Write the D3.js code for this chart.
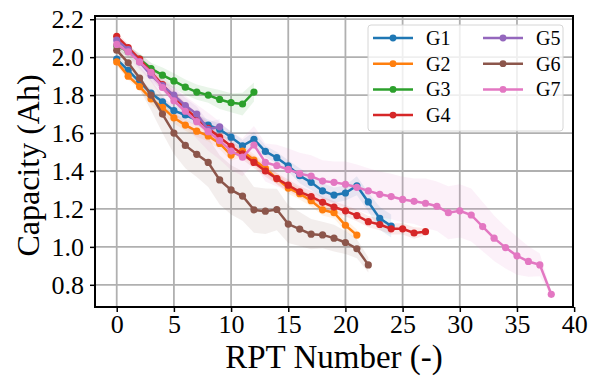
<!DOCTYPE html>
<html>
<head>
<meta charset="utf-8">
<script src="https://cdn.jsdelivr.net/npm/d3@7"></script>
<style>
  body { margin: 0; background: #fff; }
  svg text { font-family: "Liberation Serif", "Times New Roman", serif; fill: #000; }
</style>
</head>
<body>
<div id="chart"></div>
<script>
// capacity per RPT for each group (mean), plus spread for the shaded band
const groups = ["G1", "G2", "G3", "G4", "G5", "G6", "G7"];
const colors = ["#1f77b4", "#ff7f0e", "#2ca02c", "#d62728", "#9467bd", "#8c564b", "#e377c2"];

const g1 = [1.99, 1.93, 1.87, 1.81, 1.765, 1.718, 1.695, 1.668, 1.642, 1.62, 1.578, 1.533, 1.567, 1.503, 1.47, 1.427, 1.375, 1.34, 1.295, 1.273, 1.284, 1.322, 1.237, 1.15, 1.11];
const g2 = [1.975, 1.90, 1.845, 1.78, 1.735, 1.68, 1.642, 1.61, 1.585, 1.545, 1.484, 1.505, 1.458, 1.414, 1.36, 1.31, 1.28, 1.243, 1.195, 1.18, 1.114, 1.062];
const g3 = [2.06, 2.03, 1.99, 1.94, 1.905, 1.875, 1.842, 1.816, 1.80, 1.777, 1.76, 1.753, 1.816];
const g4 = [2.11, 2.05, 1.99, 1.92, 1.855, 1.79, 1.73, 1.677, 1.625, 1.578, 1.53, 1.49, 1.445, 1.40, 1.36, 1.325, 1.29, 1.265, 1.235, 1.21, 1.19, 1.165, 1.133, 1.118, 1.095, 1.095, 1.073, 1.08];
const g5 = [2.09, 2.04, 1.975, 1.905, 1.85, 1.80, 1.745, 1.70, 1.62, 1.633];
const g6 = [2.037, 1.97, 1.89, 1.80, 1.70, 1.60, 1.535, 1.488, 1.445, 1.353, 1.30, 1.268, 1.195, 1.188, 1.197, 1.12, 1.094, 1.067, 1.063, 1.046, 1.023, 0.99, 0.905];
const g7 = [2.067, 2.028, 1.975, 1.92, 1.84, 1.77, 1.715, 1.66, 1.607, 1.56, 1.505, 1.473, 1.537, 1.445, 1.428, 1.408, 1.386, 1.373, 1.347, 1.34, 1.33, 1.314, 1.295, 1.277, 1.265, 1.25, 1.24, 1.23, 1.214, 1.18, 1.19, 1.168, 1.107, 1.046, 0.996, 0.953, 0.923, 0.905, 0.75];

const s1 = [0.02, 0.02, 0.02, 0.02, 0.02, 0.03, 0.03, 0.03, 0.03, 0.03, 0.03, 0.03, 0.04, 0.03, 0.03, 0.03, 0.04, 0.04, 0.04, 0.04, 0.04, 0.05, 0.05, 0.06, 0.06];
const s2 = [0.02, 0.02, 0.02, 0.03, 0.03, 0.03, 0.03, 0.03, 0.03, 0.03, 0.03, 0.03, 0.03, 0.03, 0.03, 0.03, 0.03, 0.03, 0.03, 0.03, 0.03, 0.03];
const s3 = [0.02, 0.03, 0.03, 0.03, 0.04, 0.04, 0.04, 0.04, 0.04, 0.05, 0.05, 0.06, 0.05];
const s4 = [0.02, 0.02, 0.02, 0.03, 0.03, 0.03, 0.03, 0.03, 0.03, 0.03, 0.03, 0.03, 0.03, 0.03, 0.03, 0.03, 0.03, 0.03, 0.03, 0.03, 0.03, 0.03, 0.03, 0.03, 0.03, 0.03, 0.03, 0.02];
const s5 = [0.02, 0.03, 0.03, 0.03, 0.03, 0.04, 0.04, 0.04, 0.04, 0.04];
const s6 = [0.02, 0.04, 0.06, 0.08, 0.10, 0.11, 0.12, 0.12, 0.13, 0.13, 0.13, 0.13, 0.12, 0.12, 0.11, 0.10, 0.09, 0.08, 0.07, 0.07, 0.06, 0.05, 0.04];
const s7 = [0.02, 0.03, 0.04, 0.05, 0.06, 0.07, 0.08, 0.09, 0.10, 0.10, 0.10, 0.10, 0.10, 0.10, 0.11, 0.11, 0.11, 0.11, 0.11, 0.11, 0.12, 0.12, 0.12, 0.12, 0.12, 0.12, 0.12, 0.13, 0.13, 0.14, 0.14, 0.14, 0.13, 0.12, 0.11, 0.10, 0.08, 0.06, 0.01];

const xTicks = [0, 5, 10, 15, 20, 25, 30, 35, 40];
const yTicks = [0.8, 1.0, 1.2, 1.4, 1.6, 1.8, 2.0, 2.2];

const means = [g1, g2, g3, g4, g5, g6, g7];
const spreads = [s1, s2, s3, s4, s5, s6, s7];

const W = 598, H = 382;
const m = { left: 95, right: 25, top: 16, bottom: 75 };
const serif = '"Liberation Serif", "Times New Roman", serif';

const svg = d3.select("#chart").append("svg")
  .attr("width", W)
  .attr("height", H);

const x = d3.scaleLinear().domain([-1.9, 39.9]).range([m.left, W - m.right]);
const y = d3.scaleLinear().domain([0.683, 2.217]).range([H - m.bottom, m.top]);

// grid
svg.append("g")
  .selectAll("line.gx")
  .data(xTicks.filter(d => d < 39.9))
  .enter().append("line")
  .attr("x1", d => x(d)).attr("x2", d => x(d))
  .attr("y1", m.top).attr("y2", H - m.bottom)
  .attr("stroke", "#b0b0b0").attr("stroke-width", 1.8);

svg.append("g")
  .selectAll("line.gy")
  .data(yTicks)
  .enter().append("line")
  .attr("x1", m.left).attr("x2", W - m.right)
  .attr("y1", d => y(d)).attr("y2", d => y(d))
  .attr("stroke", "#b0b0b0").attr("stroke-width", 1.8);

const series = groups.map((name, i) => ({
  name: name,
  color: colors[i],
  pts: means[i].map((v, k) => ({ k: k, v: v, s: spreads[i][k] }))
}));

// bands
const area = d3.area()
  .x(d => x(d.k))
  .y0(d => y(d.v - d.s))
  .y1(d => y(d.v + d.s));

svg.append("g")
  .selectAll("path")
  .data(series)
  .enter().append("path")
  .attr("d", d => area(d.pts))
  .attr("fill", d => d.color)
  .attr("fill-opacity", 0.1);

// lines with markers
const line = d3.line().x(d => x(d.k)).y(d => y(d.v));

series.forEach(sr => {
  const g = svg.append("g");
  g.append("path")
    .attr("d", line(sr.pts))
    .attr("fill", "none")
    .attr("stroke", sr.color)
    .attr("stroke-width", 2.5);
  g.selectAll("circle")
    .data(sr.pts)
    .enter().append("circle")
    .attr("cx", d => x(d.k))
    .attr("cy", d => y(d.v))
    .attr("r", 3.6)
    .attr("fill", sr.color);
});

// axes
const xAxis = svg.append("g")
  .attr("transform", `translate(0,${H - m.bottom})`)
  .call(d3.axisBottom(x).tickValues(xTicks).tickSize(5).tickPadding(3));
const yAxis = svg.append("g")
  .attr("transform", `translate(${m.left},0)`)
  .call(d3.axisLeft(y).tickValues(yTicks).tickFormat(d3.format(".1f")).tickSize(5).tickPadding(6));

[xAxis, yAxis].forEach(a => {
  a.attr("font-family", serif).attr("font-size", 26);
  a.select(".domain").remove();
  a.selectAll("line").attr("stroke", "#000").attr("stroke-width", 1.5);
  a.selectAll("text")
    .style("font-family", serif)
    .style("font-size", "26px")
    .attr("fill", "#000");
});

// frame
svg.append("rect")
  .attr("x", m.left).attr("y", m.top)
  .attr("width", W - m.right - m.left)
  .attr("height", H - m.bottom - m.top)
  .attr("fill", "none")
  .attr("stroke", "#000")
  .attr("stroke-width", 2);

svg.append("text")
  .attr("x", (m.left + W - m.right) / 2)
  .attr("y", 368)
  .attr("text-anchor", "middle")
  .style("font-size", "33px")
  .text("RPT Number (-)");

svg.append("text")
  .attr("transform", `translate(39,${(m.top + H - m.bottom) / 2 + 4}) rotate(-90)`)
  .attr("text-anchor", "middle")
  .style("font-size", "32px")
  .text("Capacity (Ah)");

// legend
const lg = svg.append("g");
lg.append("rect")
  .attr("x", 368).attr("y", 25)
  .attr("width", 195).attr("height", 106)
  .attr("rx", 3)
  .attr("fill", "#fff").attr("fill-opacity", 0.8)
  .attr("stroke", "#d6d6d6");

const item = lg.selectAll("g.item")
  .data(series)
  .enter().append("g")
  .attr("transform", (d, i) => {
    const col = i < 4 ? 0 : 1;
    const row = i < 4 ? i : i - 4;
    return `translate(${373 + col * 110},${38 + row * 25.7})`;
  });
item.append("line")
  .attr("x1", 0).attr("x2", 40)
  .attr("stroke", d => d.color).attr("stroke-width", 2.5);
item.append("circle")
  .attr("cx", 20).attr("r", 3.4)
  .attr("fill", d => d.color);
item.append("text")
  .attr("x", 53).attr("dy", "0.35em")
  .style("font-size", "20px")
  .text(d => d.name);
</script>
</body>
</html>
